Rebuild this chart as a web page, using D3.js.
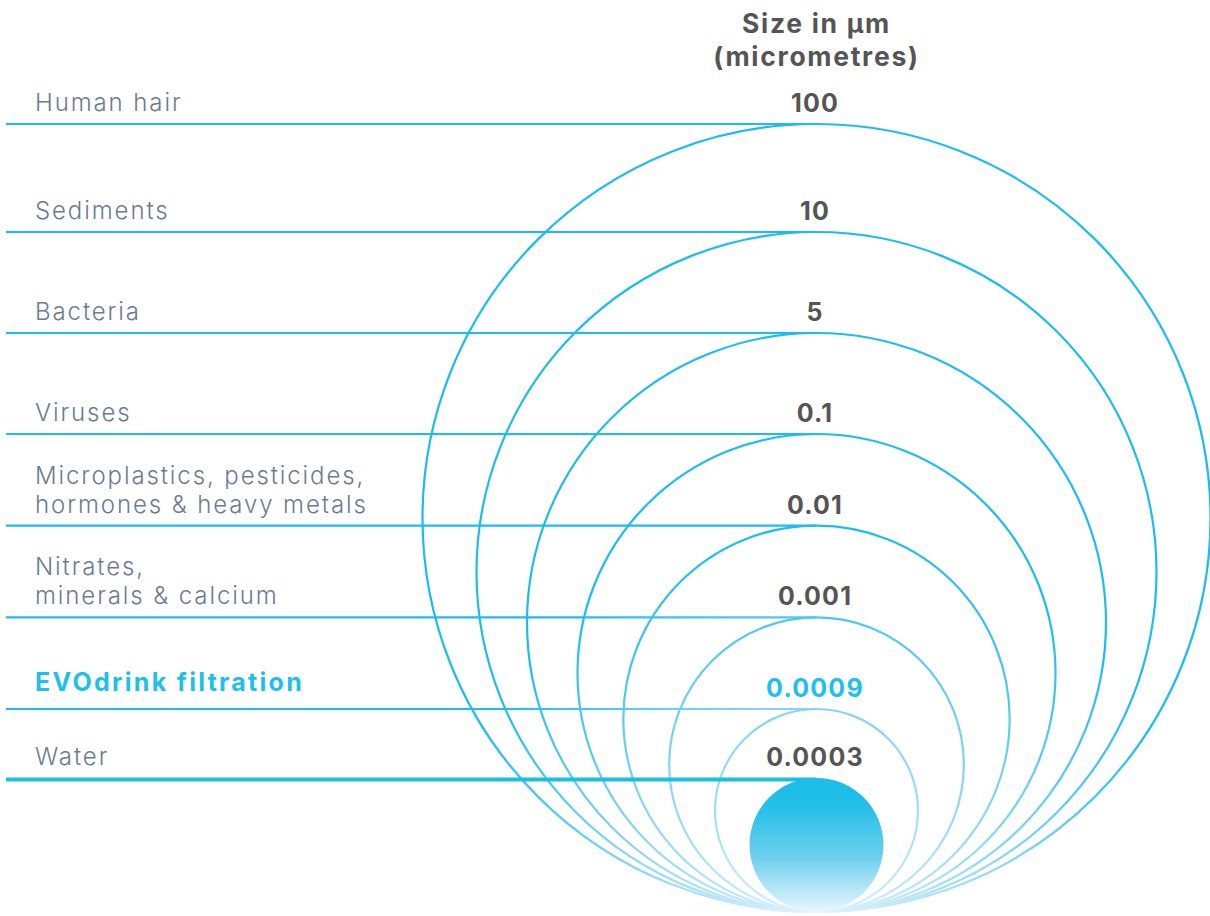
<!DOCTYPE html>
<html>
<head>
<meta charset="utf-8">
<script src="https://cdn.jsdelivr.net/npm/d3@7"></script>
<style>
  html, body { margin: 0; padding: 0; background: #ffffff; }
  svg { display: block; }
</style>
</head>
<body>
<div id="chart"></div>
<script>
// ---- data ----
const categories = [
  "Human hair",
  "Sediments",
  "Bacteria",
  "Viruses",
  "Microplastics, pesticides,|hormones & heavy metals",
  "Nitrates,|minerals & calcium",
  "EVOdrink filtration",
  "Water"
];
const sizes = [100, 10, 5, 0.1, 0.01, 0.001, 0.0009, 0.0003];
const sizeLabels = ["100", "10", "5", "0.1", "0.01", "0.001", "0.0009", "0.0003"];
const highlight = "EVOdrink filtration";
const filledCategory = "Water";
const headerLines = ["Size in \u00b5m", "(micrometres)"];

// ---- layout ----
const W = 1210, H = 916;
const cx = 816.5;           // common centre x of all circles
const baseY = 912;          // common tangent (bottom) point
const lineX0 = 6;
const labelX = 35;
const radiusStops = [101.5, 239, 340, 394];   // ring radius at rank 0, n/2, n-1, n
const waterR = 67;

const svg = d3.select("#chart").append("svg")
  .attr("width", W).attr("height", H);

const defs = svg.append("defs");
const rg = defs.append("radialGradient")
  .attr("id", "ringGrad")
  .attr("gradientUnits", "userSpaceOnUse")
  .attr("cx", cx).attr("cy", baseY).attr("r", 400);
[[0, "#e4f5fd"], [0.5, "#88d5f4"], [0.74, "#4cc8f1"], [0.95, "#1bbdec"], [1, "#1bbdec"]]
  .forEach(([o, c]) => rg.append("stop").attr("offset", o).attr("stop-color", c));

const wg = defs.append("linearGradient")
  .attr("id", "waterGrad").attr("x1", 0).attr("y1", 0).attr("x2", 0).attr("y2", 1);
[[0, "#1bbde6"], [0.2, "#22bfe7"], [0.6, "#6fd0ee"], [1, "#eaf7fc"]]
  .forEach(([o, c]) => wg.append("stop").attr("offset", o).attr("stop-color", c));

// data rows
const rows = categories.map((c, i) => ({ cat: c, size: sizes[i], label: sizeLabels[i] }));
const ringRows = rows.filter(d => d.cat !== filledCategory);
const waterRow = rows.find(d => d.cat === filledCategory);

// rank scale: steps above the smallest ring
const n = ringRows.length - 1;
const rank = d3.scalePoint().domain(ringRows.map(d => d.cat)).range([n, 0]);
const rScale = d3.scaleLinear().domain([0, n / 2, n - 1, n]).range(radiusStops);

ringRows.forEach(d => { d.r = rScale(rank(d.cat)); d.top = baseY - 2 * d.r; });
waterRow.r = waterR; waterRow.top = baseY - 2 * waterR;

// horizontal lines
svg.append("g").selectAll("line").data(ringRows).join("line")
  .attr("x1", lineX0).attr("x2", cx)
  .attr("y1", d => d.top).attr("y2", d => d.top)
  .attr("stroke", "url(#ringGrad)").attr("stroke-width", 2.2);

// rings
svg.append("g").selectAll("circle").data(ringRows).join("circle")
  .attr("cx", cx).attr("cy", d => baseY - d.r).attr("r", d => d.r)
  .attr("fill", "none")
  .attr("stroke", "url(#ringGrad)").attr("stroke-width", 2.2);

// water line + filled circle
svg.append("line")
  .attr("x1", lineX0).attr("x2", cx)
  .attr("y1", waterRow.top + 1.5).attr("y2", waterRow.top + 1.5)
  .attr("stroke", "#1dbde6").attr("stroke-width", 4);
svg.append("circle")
  .attr("cx", cx).attr("cy", baseY - waterRow.r).attr("r", waterRow.r)
  .attr("fill", "url(#waterGrad)");

// category labels
const font = "Inter, 'Open Sans', sans-serif";
const lab = svg.append("g").selectAll("text").data(rows).join("text")
  .attr("x", labelX)
  .attr("font-family", font)
  .attr("font-size", d => d.cat === highlight ? 25 : 24)
  .attr("font-weight", d => d.cat === highlight ? 700 : 300)
  .attr("fill", d => d.cat === highlight ? "#1dbfee" : "#6b7b92")
  .attr("letter-spacing", d => d.cat === highlight ? 2.3 : 1.9);
lab.each(function(d) {
  const parts = d.cat.split("|");
  const gap = d.cat === highlight ? 18 : 13;
  const lh = 29;
  d3.select(this).selectAll("tspan").data(parts).join("tspan")
    .attr("x", labelX)
    .attr("y", (p, j) => d.top - gap - (parts.length - 1 - j) * lh)
    .text(p => p);
});

// size labels
svg.append("g").selectAll("text").data(rows).join("text")
  .attr("x", cx - 1.5)
  .attr("y", d => d.top - 12)
  .attr("text-anchor", "middle")
  .attr("font-family", font)
  .attr("font-weight", 700)
  .attr("font-size", 25)
  .attr("letter-spacing", 1.2)
  .attr("fill", d => d.cat === highlight ? "#1dbfee" : "#555555")
  .text(d => d.label);

// header
svg.append("g").selectAll("text").data(headerLines).join("text")
  .attr("x", cx)
  .attr("y", (d, i) => 33 + i * 33)
  .attr("text-anchor", "middle")
  .attr("font-family", font)
  .attr("font-weight", 700)
  .attr("font-size", 26.5)
  .attr("letter-spacing", 1.7)
  .attr("fill", "#555555")
  .text(d => d);
</script>
</body>
</html>
